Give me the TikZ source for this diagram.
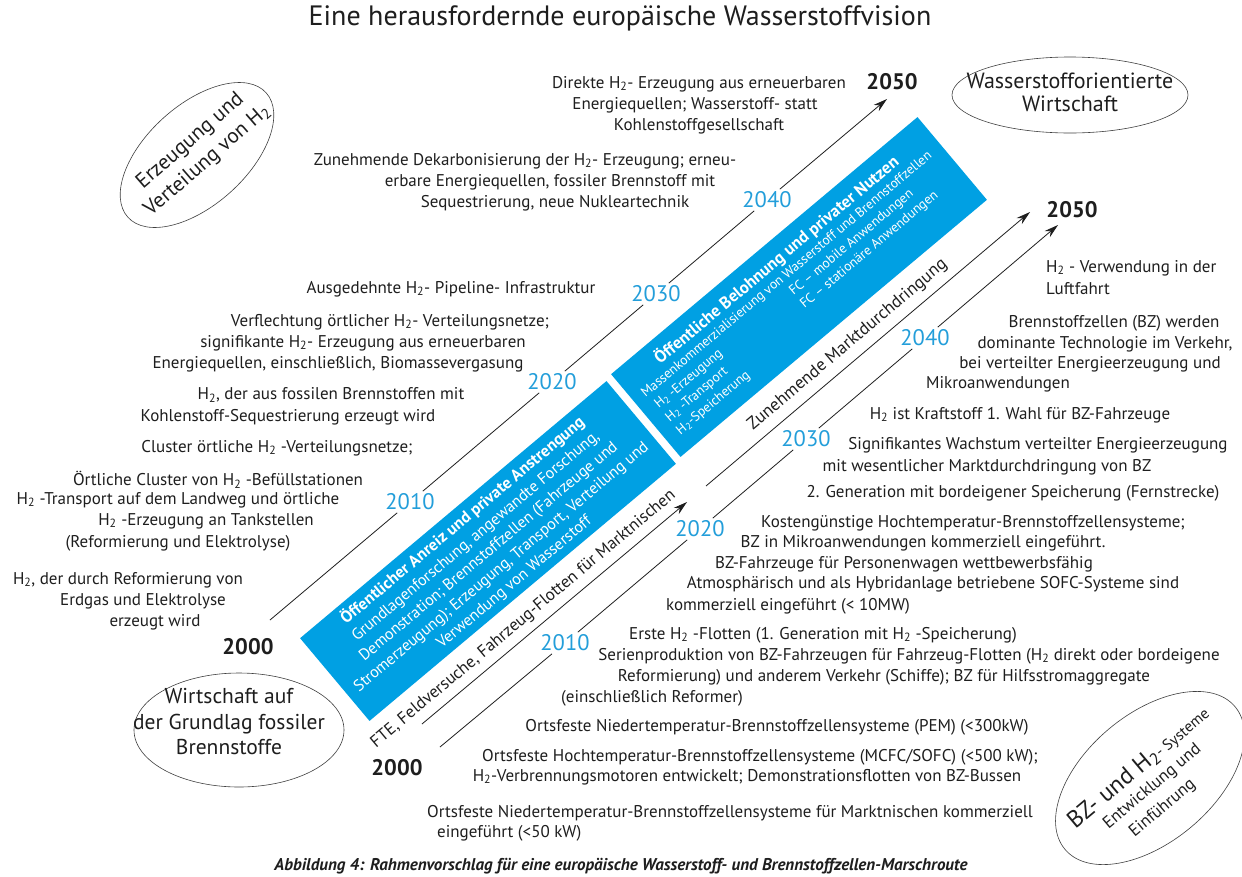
\documentclass[tikz,border=0pt]{standalone}
\usepackage{fontspec}
\setmainfont{PT Sans}
\usetikzlibrary{arrows.meta,shapes.geometric,calc}
\definecolor{hblue}{RGB}{0,160,227}
\definecolor{yblue}{RGB}{35,158,218}
\definecolor{ink}{RGB}{30,30,30}
\newcommand{\Hs}{H\textsubscript{2}}
\tikzset{
 txt/.style={font=\fontsize{17}{21}\selectfont, text=ink, inner sep=0pt},
 yr/.style={font=\fontsize{22.5}{26}\selectfont, text=yblue, inner sep=2.5pt},
 yrb/.style={font=\bfseries\fontsize{22.5}{26}\selectfont, text=ink, inner sep=1pt},
 ell/.style={draw=ink!85, ellipse, line width=0.6pt, inner sep=0pt},
 etxt/.style={font=\fontsize{21.5}{25.5}\selectfont, text=ink, inner sep=0pt, align=center},
 bluebox/.style={fill=hblue, draw=none, rectangle, inner sep=0pt, text=white},
 wtxt/.style={font=\fontsize{13.5}{16}\selectfont, text=white, inner sep=0pt},
 wtitle/.style={font=\bfseries\fontsize{17}{20}\selectfont, text=white, inner sep=0pt},
 tl/.style={draw=ink, line width=0.8pt},
 arr/.style={draw=ink, line width=0.8pt, -{Stealth[length=14pt,width=8pt]}},
}
\begin{document}
\begin{tikzpicture}[x=1pt,y=-1pt]
\fill[white] (0,0) rectangle (1242,876);
\useasboundingbox (0,0) rectangle (1242,876);

% title and caption
\node[font=\fontsize{28}{32}\selectfont, text=ink] (title) at (620,18) {Eine herausfordernde europäische Wasserstoffvision};
\node[font=\bfseries\itshape\fontsize{17}{20}\selectfont, text=ink] (caption) at (621,866) {Abbildung 4: Rahmenvorschlag für eine europäische Wasserstoff- und Brennstoffzellen-Marschroute};

% blue boxes
\node[bluebox, rotate=40, minimum width=400pt, minimum height=108pt, align=center, font=\fontsize{16}{20}\selectfont] (box1) at (488,551)
 {{\bfseries\fontsize{16.5}{20}\selectfont Öffentlicher Anreiz und private Anstrengung}\\
  Grundlagenforschung, angewandte Forschung,\\
  Demonstration; Brennstoffzellen (Fahrzeuge und\\
  Stromerzeugung); Erzeugung, Transport, Verteilung und\\
  Verwendung von Wasserstoff};
\begin{scope}[shift={(799,287)}, rotate=40, transform shape]
 \node[bluebox, minimum width=400pt, minimum height=108pt] (box2) at (0,0) {};
 \node[wtitle] (b2t) at (0,-35) {Öffentliche Belohnung und privater Nutzen};
 \node[wtxt, anchor=west] (b2a) at (-189,-17) {Massenkommerzialisierung von Wasserstoff und Brennstoffzellen};
 \node[wtxt, anchor=west] (b2b) at (-186,0) {\Hs\ -Erzeugung};
 \node[wtxt, anchor=west] (b2c) at (-186,17) {\Hs\ -Transport};
 \node[wtxt, anchor=west] (b2d) at (-186,34) {\Hs-Speicherung};
 \node[wtxt, anchor=west] (b2e) at (-10,0) {FC -- mobile Anwendungen};
 \node[wtxt, anchor=west] (b2f) at (-10,17) {FC -- stationäre Anwendungen};
\end{scope}

% ellipses
\node[ell, rotate=42, minimum width=186pt, minimum height=100pt] (ell1) at (197,155) {};
\node[etxt, rotate=41, font=\fontsize{21}{26}\selectfont] (ell1t) at (199,151) {Erzeugung und\\Verteilung von \Hs};
\node[ell, minimum width=210pt, minimum height=114pt] (ell2) at (239,730) {};
\node[etxt] (ell2t) at (229,722) {Wirtschaft auf\\der Grundlag fossiler\\Brennstoffe};
\node[ell, minimum width=236pt, minimum height=76pt] (ell3) at (1070,95) {};
\node[etxt, font=\fontsize{22}{23}\selectfont] (ell3t) at (1070,92) {Wasserstofforientierte\\Wirtschaft};
\node[ell, rotate=40, minimum width=222pt, minimum height=128pt] (ell4) at (1150,778) {};
\begin{scope}[shift={(1152,777)}, rotate=40, transform shape]
 \node[text=ink, inner sep=0pt] (ell4a) at (-4,-16) {{\fontsize{24}{26}\selectfont BZ- und H\textsubscript{2}}{\fontsize{15.5}{17}\selectfont- Systeme}};
 \node[text=ink, inner sep=0pt, font=\fontsize{17}{19}\selectfont] (ell4b) at (-6,8) {Entwicklung und};
 \node[text=ink, inner sep=0pt, font=\fontsize{17}{19}\selectfont] (ell4c) at (-12,31) {Einführung};
\end{scope}

% year labels
\node[yrb] (u2000) at (248,647) {2000};
\node[yr] (u2010) at (410,502) {2010};
\node[yr] (u2020) at (552,382) {2020};
\node[yr] (u2030) at (656,294) {2030};
\node[yr] (u2040) at (767,200) {2040};
\node[yrb] (u2050) at (892,82) {2050};
\node[yrb] (l2000) at (397,768) {2000};
\node[yr] (l2010) at (565,643) {2010};
\node[yr] (l2020) at (700,529) {2020};
\node[yr] (l2030) at (806,439) {2030};
\node[yr] (l2040) at (925,338) {2040};
\node[yrb] (l2050) at (1072,210) {2050};

% timelines
\coordinate (ua0) at (270,620);
\coordinate (ua1) at (887,99);
\draw[tl] (ua0) -- (u2010) -- (u2020) -- (u2030) -- (u2040);
\draw[arr] (u2040) -- (ua1);
\coordinate (la0) at (440,747);
\coordinate (la1) at (1058,225);
\draw[tl] (la0) -- (l2010) -- (l2020) -- (l2030) -- (l2040);
\draw[arr] (l2040) -- (la1);
\coordinate (f0) at (422,724);
\coordinate (f1) at (687,502);
\draw[arr] (f0) -- node[txt, sloped, above=7pt, pos=0.42] (ftetxt) {FTE, Feldversuche, Fahrzeug-Flotten für Marktnischen} (f1);
\coordinate (z0) at (706,486);
\coordinate (z1) at (1030,212);
\draw[arr] (z0) -- node[txt, font=\fontsize{17.5}{21}\selectfont, sloped, above=8pt, pos=0.47] (ztxt) {Zunehmende Marktdurchdringung} (z1);

% left descriptions
\node[txt] (t01) at (699,84) {Direkte \Hs- Erzeugung aus erneuerbaren};
\node[txt] (t02) at (695,105) {Energiequellen; Wasserstoff- statt};
\node[txt] (t03) at (699,126) {Kohlenstoffgesellschaft};
\node[txt] (t04) at (525,161) {Zunehmende Dekarbonisierung der \Hs- Erzeugung; erneu-};
\node[txt] (t05) at (550,182) {erbare Energiequellen, fossiler Brennstoff mit};
\node[txt] (t06) at (555,203) {Sequestrierung, neue Nukleartechnik};
\node[txt] (t07) at (451,289) {Ausgedehnte \Hs- Pipeline- Infrastruktur};
\node[txt] (t08) at (390,322) {Verflechtung örtlicher \Hs- Verteilungsnetze;};
\node[txt] (t09) at (363,343) {signifikante \Hs- Erzeugung aus erneuerbaren};
\node[txt] (t10) at (338,364) {Energiequellen, einschließlich, Biomassevergasung};
\node[txt] (t11) at (331,395) {\Hs, der aus fossilen Brennstoffen mit};
\node[txt] (t12) at (288,417) {Kohlenstoff-Sequestrierung erzeugt wird};
\node[txt] (t13) at (277,448) {Cluster örtliche \Hs\ -Verteilungsnetze;};
\node[txt] (t14) at (218,480) {Örtliche Cluster von \Hs\ -Befüllstationen};
\node[txt] (t15) at (178,500) {\Hs\ -Transport auf dem Landweg und örtliche};
\node[txt] (t16) at (206,521) {\Hs\ -Erzeugung an Tankstellen};
\node[txt] (t17) at (178,543) {(Reformierung und Elektrolyse)};
\node[txt] (t18) at (128,580) {\Hs, der durch Reformierung von};
\node[txt] (t19) at (143,601) {Erdgas und Elektrolyse};
\node[txt] (t20) at (155,622) {erzeugt wird};

% right descriptions
\node[txt, anchor=west] (r01) at (1046,268) {\Hs\ - Verwendung in der};
\node[txt, anchor=west] (r02) at (1046,289) {Luftfahrt};
\node[txt] (r03) at (1114,323) {Brennstoffzellen (BZ) werden};
\node[txt] (r04) at (1105,344) {dominante Technologie im Verkehr,};
\node[txt] (r05) at (1090,364) {bei verteilter Energieerzeugung und};
\node[txt] (r06) at (998,384) {Mikroanwendungen};
\node[txt] (r07) at (1020,415) {\Hs\ ist Kraftstoff 1. Wahl für BZ-Fahrzeuge};
\node[txt] (r08) at (1038,445) {Signifikantes Wachstum verteilter Energieerzeugung};
\node[txt] (r09) at (987,467) {mit wesentlicher Marktdurchdringung von BZ};
\node[txt] (r10) at (1013,493) {2. Generation mit bordeigener Speicherung (Fernstrecke)};
\node[txt] (r11) at (973,523) {Kostengünstige Hochtemperatur-Brennstoffzellensysteme;};
\node[txt] (r12) at (923,543) {BZ in Mikroanwendungen kommerziell eingeführt.};
\node[txt] (r13) at (904,564) {BZ-Fahrzeuge für Personenwagen wettbewerbsfähig};
\node[txt] (r14) at (933,584) {Atmosphärisch und als Hybridanlage betriebene SOFC-Systeme sind};
\node[txt] (r15) at (788,606) {kommerziell eingeführt (< 10MW)};
\node[txt] (r16) at (823,635) {Erste \Hs\ -Flotten (1. Generation mit \Hs\ -Speicherung)};
\node[txt] (r17) at (909,656) {Serienproduktion von BZ-Fahrzeugen für Fahrzeug-Flotten (\Hs\ direkt oder bordeigene};
\node[txt] (r18) at (884,677) {Reformierung) und anderem Verkehr (Schiffe); BZ für Hilfsstromaggregate};
\node[txt] (r19) at (652,698) {(einschließlich Reformer)};
\node[txt] (r20) at (777,727) {Ortsfeste Niedertemperatur-Brennstoffzellensysteme (PEM) (<300kW)};
\node[txt] (r21) at (760,757) {Ortsfeste Hochtemperatur-Brennstoffzellensysteme (MCFC/SOFC) (<500 kW);};
\node[txt] (r22) at (747,777) {\Hs-Verbrennungsmotoren entwickelt; Demonstrationsflotten von BZ-Bussen};
\node[txt] (r23) at (730,813) {Ortsfeste Niedertemperatur-Brennstoffzellensysteme für Marktnischen kommerziell};
\node[txt, anchor=west] (r24) at (437,833) {eingeführt (<50 kW)};
\end{tikzpicture}
\end{document}
